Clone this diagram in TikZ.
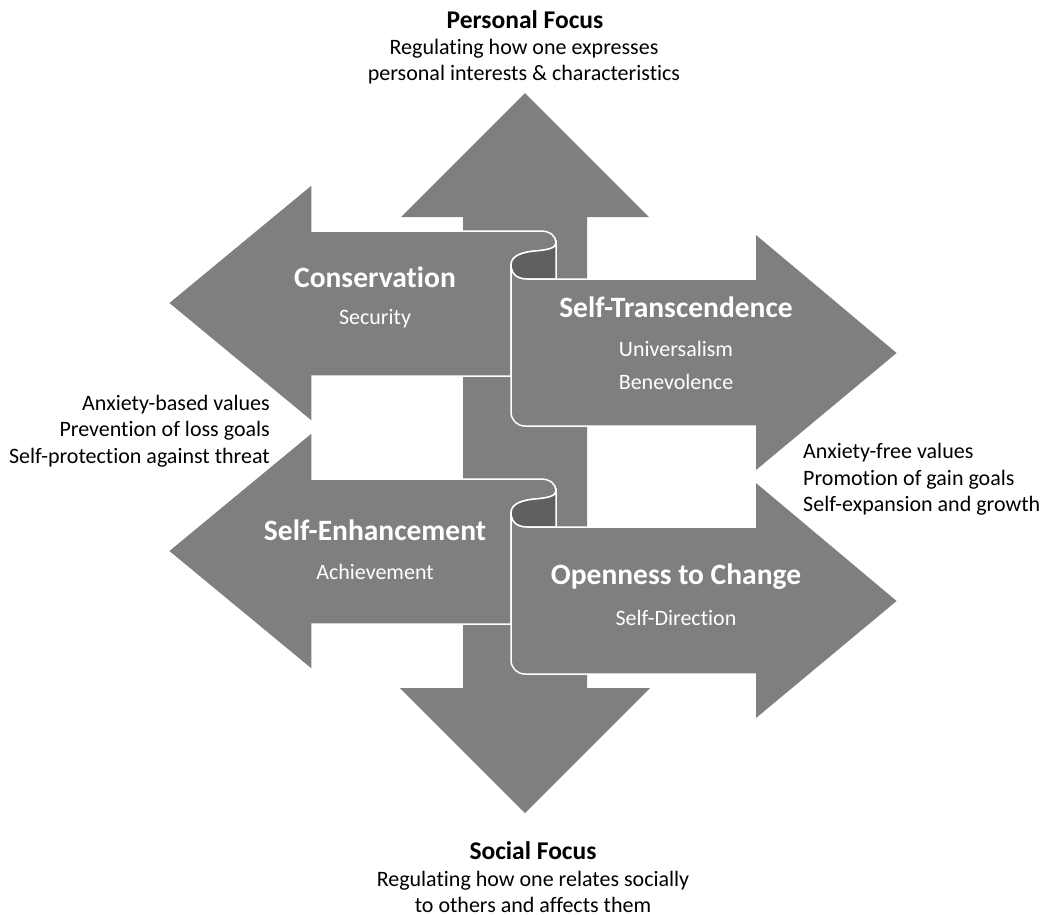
\documentclass[tikz,border=0pt]{standalone}
\usepackage{fontspec}
\setmainfont{Carlito}[Ligatures=NoCommon]
\definecolor{arrowgray}{HTML}{7F7F7F}
\definecolor{curlgray}{HTML}{606060}
\tikzset{
  arrowshape/.style={fill=arrowgray, draw=white, line width=1.5pt, line join=miter},
  curlshape/.style={fill=curlgray, draw=white, line width=1.5pt},
  head/.style={font=\bfseries\fontsize{29.5}{34}\selectfont, text=white, inner sep=0pt},
  sub/.style={font=\fontsize{22}{33}\selectfont, text=white, align=center, inner sep=0pt},
  focushead/.style={font=\bfseries\fontsize{25.5}{28}\selectfont, inner sep=0pt},
  side/.style={font=\fontsize{22}{26.5}\selectfont, inner sep=0pt},
}
\begin{document}
\begin{tikzpicture}[x=1pt,y=-1pt]
\useasboundingbox (0,0) rectangle (1050,914);
% vertical double arrow
\path[fill=arrowgray] (525,93) -- (649,217) -- (587,217) -- (587,688) -- (650,688) -- (525,813) -- (400,688) -- (463,688) -- (463,217) -- (401,217) -- cycle;
% two pairs of scroll arrows
\foreach \dy in {0,248}{
\begin{scope}[shift={(0,\dy)}]
  \path[arrowshape] (168,303) -- (312,184) -- (312,231) -- (541,231)
     .. controls (550,231) and (556,236) .. (556,243)
     .. controls (556,248) and (548,250) .. (535,251)
     .. controls (524,252) and (511,255) .. (511,265)
     -- (511,376) -- (312,376) -- (312,422) -- cycle;
  \path[curlshape] (511,265) .. controls (511,255) and (524,252) .. (535,251)
     .. controls (548,250) and (556,248) .. (556,243) -- (556,279) -- (527,279)
     .. controls (517,279) and (511,274) .. (511,265) -- cycle;
  \path[arrowshape] (511,265) .. controls (511,274) and (517,279) .. (527,279)
     -- (755,279) -- (755,233) -- (898,353) -- (755,472) -- (755,426) -- (525,426)
     .. controls (517,426) and (511,420) .. (511,412) -- cycle;
\end{scope}
}
% labels inside arrows
\node[head] (cons) at (375,277) {Conservation};
\node[sub] (sec) at (375,319) {Security};
\node[head] (st) at (676,307) {Self-Transcendence};
\node[sub] (univ) at (676,349) {Universalism};
\node[sub] (bene) at (676,382) {Benevolence};
\node[head] (se) at (375,530) {Self-Enhancement};
\node[sub] (ach) at (375,572) {Achievement};
\node[head] (oc) at (676,577) {Openness to Change};
\node[sub] (sd) at (676,618) {Self-Direction};
% focus texts
\node[focushead] (pf) at (525,20) {Personal Focus};
\node[side, align=center] (pfd) at (524,61.5) {Regulating how one expresses\\personal interests \& characteristics};
\node[focushead] (sf) at (533,851) {Social Focus};
\node[side, align=center] (sfd) at (533,892) {Regulating how one relates socially\\to others and affects them};
% side texts
\node[side, align=right, anchor=east] (lt) at (270,431) {Anxiety-based values\\Prevention of loss goals\\Self-protection against threat};
\node[side, align=left, anchor=west] (rt) at (803,479.5) {Anxiety-free values\\Promotion of gain goals\\Self-expansion and growth};
\end{tikzpicture}
\end{document}
